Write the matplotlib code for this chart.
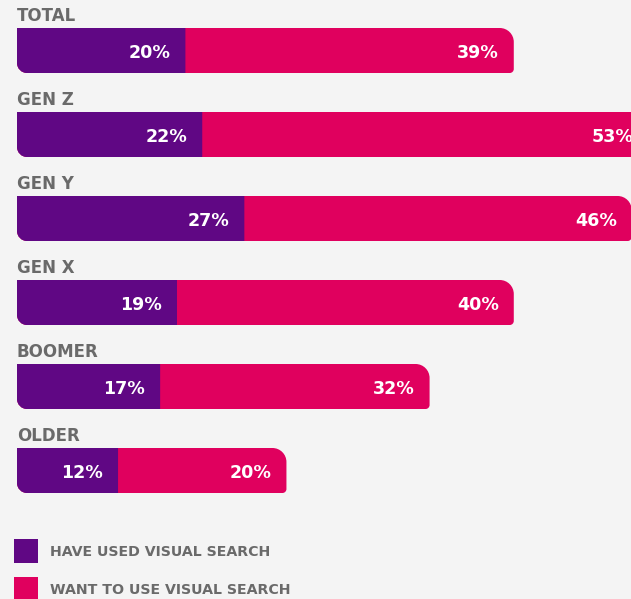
import numpy as np
import matplotlib.pyplot as plt
from matplotlib.path import Path
from matplotlib.patches import PathPatch, Rectangle

categories = ['TOTAL', 'GEN Z', 'GEN Y', 'GEN X', 'BOOMER', 'OLDER']
have_used = [20, 22, 27, 19, 17, 12]
want_to_use = [39, 53, 46, 40, 32, 20]
legend_labels = ['HAVE USED VISUAL SEARCH', 'WANT TO USE VISUAL SEARCH']

PURPLE = '#600784'
PINK = '#e0005e'
BG = '#f4f4f4'
GREY = '#6a6a6a'

W, H = 631, 599
PX_PER_UNIT = 8.42   # px per percentage point
ROW_PX = 84.0        # px between bars
BAR_PX = 45.0

plt.rcParams['font.family'] = ['DejaVu Sans']


def rounded_bar(x0, x1, yc, h, r_tl, r_bl, r_tr, r_br):
    # radii in pixels, converted separately for x and y data scales
    k = 0.5523
    sx = 1.0 / PX_PER_UNIT
    sy = 1.0 / ROW_PX
    top = yc - h / 2   # y axis inverted: smaller value = higher on screen
    bot = yc + h / 2
    verts = []
    codes = []

    def corner(cx, cy, px, py, ex, ey):
        # cubic from (px,py) to (ex,ey) around corner (cx,cy)
        c1 = (px + (cx - px) * k, py + (cy - py) * k)
        c2 = (ex + (cx - ex) * k, ey + (cy - ey) * k)
        verts.extend([c1, c2, (ex, ey)])
        codes.extend([Path.CURVE4] * 3)

    # start at top-left
    verts.append((x0 + r_tl * sx, top)); codes.append(Path.MOVETO)
    verts.append((x1 - r_tr * sx, top)); codes.append(Path.LINETO)
    if r_tr:
        corner(x1, top, x1 - r_tr * sx, top, x1, top + r_tr * sy)
    verts.append((x1, bot - r_br * sy)); codes.append(Path.LINETO)
    if r_br:
        corner(x1, bot, x1, bot - r_br * sy, x1 - r_br * sx, bot)
    verts.append((x0 + r_bl * sx, bot)); codes.append(Path.LINETO)
    if r_bl:
        corner(x0, bot, x0 + r_bl * sx, bot, x0, bot - r_bl * sy)
    verts.append((x0, top + r_tl * sy)); codes.append(Path.LINETO)
    verts.append((x0 + r_tl * sx, top)); codes.append(Path.CLOSEPOLY)
    return Path(verts, codes)


fig = plt.figure(figsize=(W / 100, H / 100), dpi=100)
fig.patch.set_facecolor(BG)
ax = fig.add_axes([0, 0, 1, 1])
ax.set_facecolor(BG)
ax.set_xlim(-17 / PX_PER_UNIT, (W - 17) / PX_PER_UNIT)
ax.set_ylim((H - 50.5) / ROW_PX, -50.5 / ROW_PX)
ax.axis('off')

h = BAR_PX / ROW_PX
pad = 15 / PX_PER_UNIT
for i, (cat, a, b) in enumerate(zip(categories, have_used, want_to_use)):
    total = a + b
    ax.add_patch(PathPatch(rounded_bar(0, total, i, h, 0, 10, 14, 4),
                           facecolor=PINK, edgecolor='none'))
    ax.add_patch(PathPatch(rounded_bar(0, a, i, h, 0, 10, 0, 0),
                           facecolor=PURPLE, edgecolor='none'))
    ax.text(a - pad, i, f'{a}%', color='white', fontsize=12.6,
            fontweight='bold', ha='right', va='center_baseline')
    ax.text(total - pad, i, f'{b}%', color='white', fontsize=12.6,
            fontweight='bold', ha='right', va='center_baseline')
    ax.text(0, i - h / 2 - 7 / ROW_PX, cat, color=GREY, fontsize=12,
            fontweight='bold', ha='left', va='baseline')

# legend
for j, (lab, col) in enumerate(zip(legend_labels, [PURPLE, PINK])):
    ytop = 539 + 38 * j
    fig.add_artist(Rectangle((14 / W, 1 - (ytop + 24) / H), 24 / W, 24 / H,
                             transform=fig.transFigure, facecolor=col,
                             edgecolor='none'))
    fig.text(50 / W, 1 - (ytop + 12) / H, lab, color=GREY, fontsize=10.2,
             fontweight='bold', ha='left', va='center_baseline')

fig.savefig('out.png', dpi=100, facecolor=BG)
